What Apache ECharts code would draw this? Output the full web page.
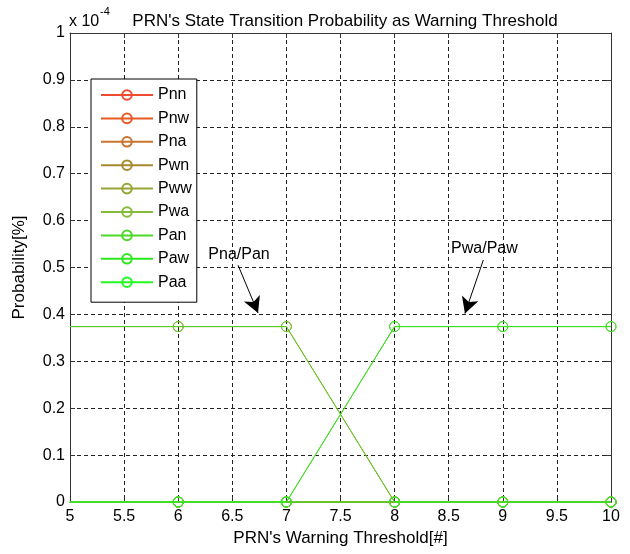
<!DOCTYPE html>
<html>
<head>
<meta charset="utf-8">
<script src="https://cdn.jsdelivr.net/npm/echarts@6/dist/echarts.min.js"></script>
<style>
  html, body { margin: 0; padding: 0; background: #fff; }
  #main { width: 630px; height: 554px; }
</style>
</head>
<body>
<div id="main"></div>
<script>
// warning threshold values (x) and probabilities in units of 1e-4
var thresholds = [5, 6, 7, 8, 9, 10]
var names = ['Pnn', 'Pnw', 'Pna', 'Pwn', 'Pww', 'Pwa', 'Pan', 'Paw', 'Paa']
var colors = ['#f04a30', '#e85a22', '#c8742e', '#a88a2e', '#98a536', '#84bb3a', '#4cd826', '#2ee81e', '#22f822']
var pnn = [0, 0, 0, 0, 0, 0]
var pnw = [0, 0, 0, 0, 0, 0]
var pna = [0.374, 0.374, 0.374, 0, 0, 0]
var pwn = [0, 0, 0, 0, 0, 0]
var pww = [0, 0, 0, 0, 0, 0]
var pwa = [0, 0, 0, 0.374, 0.374, 0.374]
var pan = [0.374, 0.374, 0.374, 0, 0, 0]
var paw = [0, 0, 0, 0.374, 0.374, 0.374]
var paa = [0, 0, 0, 0, 0, 0]
var values = [pnn, pnw, pna, pwn, pww, pwa, pan, paw, paa]

var font = 'Liberation Sans, Arial, sans-serif'
var myChart = echarts.init(document.getElementById('main'))

var series = names.map(function (n, i) {
  return {
    name: n,
    type: 'line',
    color: colors[i],
    clip: false,
    symbol: 'circle',
    symbolSize: 10,
    showAllSymbol: true,
    lineStyle: { width: 1, color: colors[i] },
    itemStyle: { color: 'rgba(255,255,255,0)', borderColor: colors[i], borderWidth: 1 },
    emphasis: { disabled: true },
    data: thresholds.map(function (t, k) {
      var item = { value: [t, values[i][k]] }
      if (k === 0) item.symbol = 'none'
      return item
    })
  }
})

// annotation arrows and texts
series[8].markLine = {
  silent: true,
  symbol: ['none', 'arrow'],
  symbolSize: [13, 16],
  lineStyle: { color: '#000', width: 1, type: 'solid' },
  label: { show: false },
  data: [
    [{ coord: [6.553, 0.505] }, { coord: [6.738, 0.403] }],
    [{ coord: [8.82, 0.516] }, { coord: [8.65, 0.402] }]
  ]
}
series[8].markPoint = {
  silent: true,
  symbol: 'circle',
  symbolSize: 0,
  label: { show: true, position: 'inside', color: '#000', fontSize: 16, fontFamily: font },
  data: [
    { coord: [6.562, 0.527], label: { formatter: 'Pna/Pan' } },
    { coord: [8.83, 0.541], label: { formatter: 'Pwa/Paw' } }
  ]
}

var option = {
  animation: false,
  backgroundColor: '#fff',
  textStyle: { fontFamily: font },
  title: {
    text: "PRN's State Transition Probability as Warning Threshold",
    left: 340,
    top: 8,
    textAlign: 'center',
    textStyle: { fontSize: 17, fontWeight: 'normal', color: '#000', fontFamily: font }
  },
  graphic: [{
    type: 'text',
    left: 69,
    top: 14,
    style: { text: 'x 10', fill: '#000', fontSize: 16, fontFamily: font }
  }, {
    type: 'text',
    left: 100,
    top: 6,
    style: { text: '-4', fill: '#000', fontSize: 11, fontFamily: font }
  }],
  legend: {
    orient: 'vertical',
    left: 91,
    top: 79,
    padding: [8, 5, 12, 9],
    itemGap: 7.4,
    itemWidth: 52,
    itemHeight: 12,
    backgroundColor: '#fff',
    borderColor: '#000',
    borderWidth: 1,
    borderRadius: 0,
    selectedMode: false,
    textStyle: { fontSize: 16, lineHeight: 12, color: '#000', fontFamily: font },
    data: names
  },
  grid: { left: 70, right: 19, top: 33, bottom: 52 },
  xAxis: [{
    type: 'value',
    min: 5,
    max: 10,
    interval: 0.5,
    name: "PRN's Warning Threshold[#]",
    nameLocation: 'middle',
    nameGap: 27,
    nameTextStyle: { fontSize: 17, color: '#000', fontFamily: font },
    axisLine: { show: true, lineStyle: { color: '#333' } },
    axisTick: { show: true, inside: true, length: 5, lineStyle: { color: '#333' } },
    axisLabel: { fontSize: 16, color: '#000', margin: 7, fontFamily: font },
    splitLine: { show: true, lineStyle: { color: '#222', type: [4, 3], width: 1 } }
  }, {
    type: 'value',
    position: 'top',
    min: 5,
    max: 10,
    interval: 0.5,
    axisLine: { show: true, onZero: false, lineStyle: { color: '#333' } },
    axisTick: { show: true, inside: true, length: 5, lineStyle: { color: '#333' } },
    axisLabel: { show: false },
    splitLine: { show: false }
  }],
  yAxis: [{
    type: 'value',
    min: 0,
    max: 1,
    interval: 0.1,
    name: 'Probability[%]',
    nameLocation: 'middle',
    nameGap: 42,
    nameTextStyle: { fontSize: 17, color: '#000', fontFamily: font },
    axisLine: { show: true, lineStyle: { color: '#333' } },
    axisTick: { show: true, inside: true, length: 5, lineStyle: { color: '#333' } },
    axisLabel: { fontSize: 16, color: '#000', margin: 5, fontFamily: font },
    splitLine: { show: true, lineStyle: { color: '#222', type: [4, 3], width: 1 } }
  }, {
    type: 'value',
    position: 'right',
    min: 0,
    max: 1,
    interval: 0.1,
    axisLine: { show: true, onZero: false, lineStyle: { color: '#333' } },
    axisTick: { show: true, inside: true, length: 5, lineStyle: { color: '#333' } },
    axisLabel: { show: false },
    splitLine: { show: false }
  }],
  series: series
}
myChart.setOption(option)
</script>
</body>
</html>
